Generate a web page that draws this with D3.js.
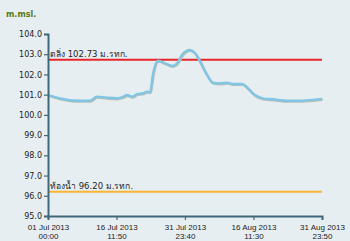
<!DOCTYPE html>
<html>
<head>
<meta charset="utf-8">
<title>Water level</title>
<script src="https://cdn.jsdelivr.net/npm/d3@7"></script>
<style>
  body { margin: 0; background: #e7eef2; }
  svg { display: block; font-family: "DejaVu Sans", Verdana, sans-serif; }
</style>
</head>
<body>
<script>
// water level readings (m.msl.)
var times = ["2013-07-01 00:00", "2013-07-03 17:00", "2013-07-06 17:00", "2013-07-10 12:00",
  "2013-07-12 02:00", "2013-07-14 07:00", "2013-07-16 14:00", "2013-07-17 17:00",
  "2013-07-18 22:00", "2013-07-20 00:00", "2013-07-21 02:00", "2013-07-22 12:00",
  "2013-07-23 10:00", "2013-07-24 02:00", "2013-07-24 19:00", "2013-07-25 22:00",
  "2013-07-27 12:00", "2013-07-29 02:00", "2013-07-30 05:00", "2013-07-31 07:00",
  "2013-08-02 02:00", "2013-08-03 07:00", "2013-08-04 10:00", "2013-08-06 00:00",
  "2013-08-07 07:00", "2013-08-08 22:00", "2013-08-10 12:00", "2013-08-11 22:00",
  "2013-08-13 22:00", "2013-08-15 05:00", "2013-08-16 19:00", "2013-08-18 14:00",
  "2013-08-20 22:00", "2013-08-24 02:00", "2013-08-27 00:00", "2013-08-30 00:00",
  "2013-08-31 23:50"];
var levels = [100.98, 100.82, 100.71, 100.70, 100.90, 100.85, 100.82, 100.87,
  100.98, 100.90, 101.02, 101.07, 101.15, 101.12, 102.07, 102.68,
  102.55, 102.42, 102.55, 102.96, 103.21, 103.05, 102.63, 101.97,
  101.59, 101.56, 101.59, 101.53, 101.53, 101.32, 100.98, 100.82,
  100.77, 100.70, 100.70, 100.74, 100.79];

var bankLevel = 102.73, bedLevel = 96.20;
var bankLabel = "ตลิ่ง 102.73 ม.รทก.", bedLabel = "ท้องน้ำ 96.20 ม.รทก.";

var yTicks = [95, 96, 97, 98, 99, 100, 101, 102, 103, 104];
var xTicks = ["2013-07-01 00:00", "2013-07-16 11:50", "2013-07-31 23:40", "2013-08-16 11:30", "2013-08-31 23:50"];

var parse = d3.timeParse("%Y-%m-%d %H:%M");
var data = times.map(function(t, i) { return { t: parse(t), v: levels[i] }; });

var W = 350, H = 241;
var margin = { left: 48, right: 28, top: 34, bottom: 25 };

var svg = d3.select("body").append("svg").attr("width", W).attr("height", H);

var x = d3.scaleTime()
  .domain([parse(xTicks[0]), parse(xTicks[xTicks.length - 1])])
  .range([margin.left, W - margin.right]);
var y = d3.scaleLinear().domain([95, 104]).range([H - margin.bottom, margin.top]);

svg.append("text").attr("x", 6).attr("y", 17)
  .attr("font-size", 8).attr("font-weight", "bold").attr("fill", "#587a14")
  .text("m.msl.");

// reference lines
[[bankLevel, "#e8262a", bankLabel], [bedLevel, "#f9b533", bedLabel]].forEach(function(r) {
  svg.append("line")
    .attr("x1", x.range()[0]).attr("x2", x.range()[1])
    .attr("y1", y(r[0])).attr("y2", y(r[0]))
    .attr("stroke", r[1]).attr("stroke-width", 2);
  svg.append("text").attr("x", x.range()[0] + 2).attr("y", y(r[0]) - 3)
    .attr("font-size", 8.5).attr("fill", "#1e1e1e").text(r[2]);
});

var line = d3.line().x(function(d) { return x(d.t); }).y(function(d) { return y(d.v); })
  .curve(d3.curveMonotoneX);

svg.append("path").datum(data).attr("d", line)
  .attr("fill", "none").attr("stroke", "#b9c0b6").attr("stroke-width", 2.6)
  .attr("transform", "translate(0.6,0.8)");
svg.append("path").datum(data).attr("d", line)
  .attr("fill", "none").attr("stroke", "#80c6e4").attr("stroke-width", 2.4);

var axisColor = "#3f6878";

var yAxis = svg.append("g").attr("transform", "translate(" + margin.left + ",0)")
  .call(d3.axisLeft(y).tickValues(yTicks).tickFormat(d3.format(".1f")).tickSize(4).tickPadding(2));
var xAxis = svg.append("g").attr("transform", "translate(0," + (H - margin.bottom) + ")")
  .call(d3.axisBottom(x).tickValues(xTicks.map(parse)).tickSize(4).tickFormat(""));

[yAxis, xAxis].forEach(function(g) {
  g.select(".domain").attr("stroke", axisColor).attr("stroke-width", 2);
  g.selectAll(".tick line").attr("stroke", axisColor).attr("stroke-width", 1.2);
  g.selectAll("text").attr("font-size", 8).attr("fill", "#222").attr("font-family", "DejaVu Sans, sans-serif");
});

var fmtDate = d3.timeFormat("%d %b %Y"), fmtTime = d3.timeFormat("%H:%M");
xAxis.selectAll(".tick").each(function(d) {
  var t = d3.select(this).append("text").attr("text-anchor", "middle")
    .attr("font-size", 8).attr("fill", "#222");
  t.append("tspan").attr("x", 0).attr("y", 13.5).text(fmtDate(d));
  t.append("tspan").attr("x", 0).attr("y", 22.5).text(fmtTime(d));
});
</script>
</body>
</html>
